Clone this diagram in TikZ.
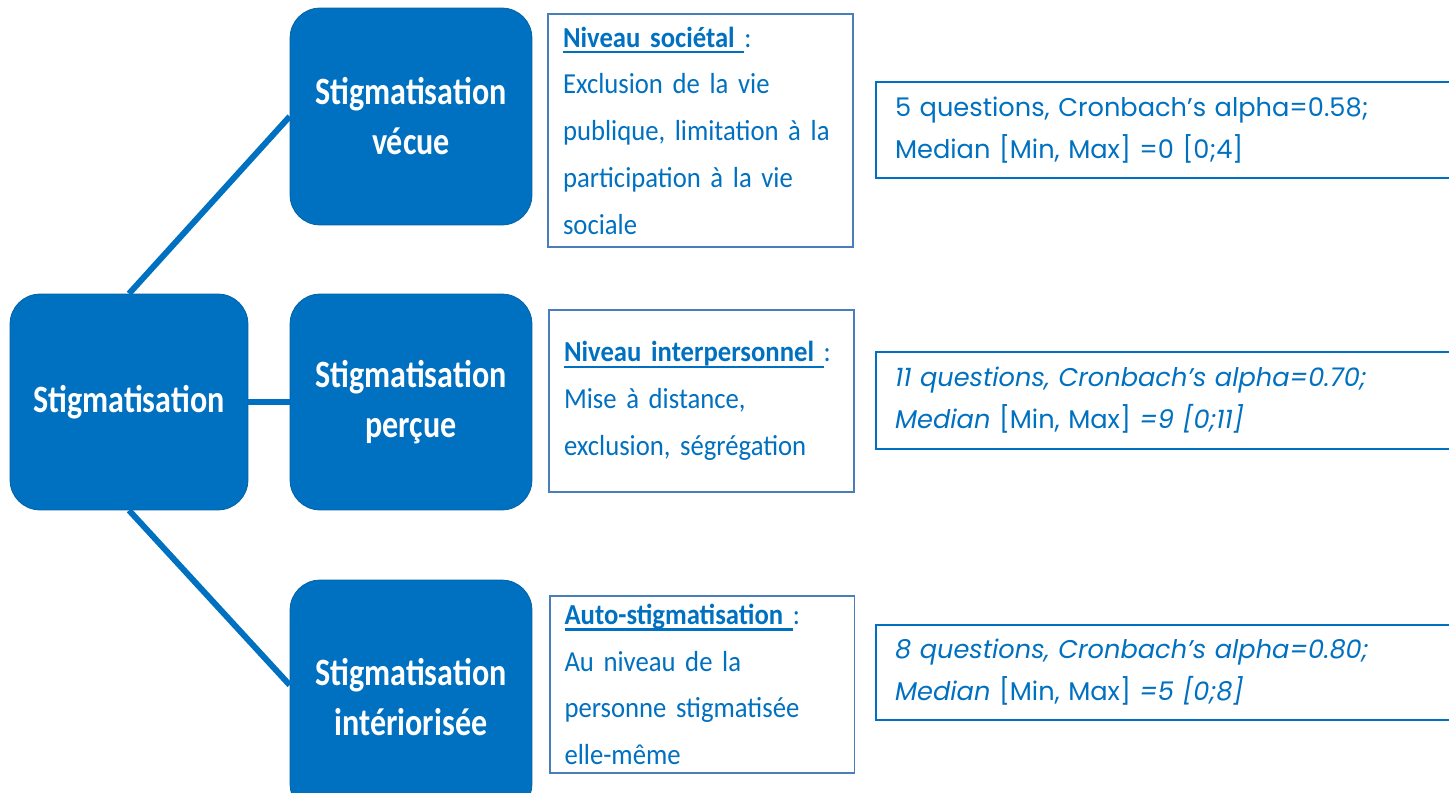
\documentclass[tikz,border=0pt]{standalone}
\usepackage{fontspec}
\setmainfont{Carlito}[FakeStretch=0.83, WordSpace=0.85]
\newfontfamily\levelfont{Carlito}[FakeStretch=0.92, WordSpace=0.9]
\newfontfamily\statfont{Poppins}
\definecolor{stigblue}{HTML}{0070C0}
\definecolor{frameblue}{HTML}{4A7EBB}
% underlined heading with a heavier rule
\newcommand{\headline}[1]{\leavevmode\setbox0\hbox{\textbf{#1}\ }\rlap{\rule[-3.6pt]{\wd0}{1.5pt}}\box0}
\begin{document}
\begin{tikzpicture}[x=0.02cm,y=-0.02cm,
    bigbox/.style={fill=stigblue, draw=stigblue!85!black, rounded corners=0.6cm, text=white,
        font=\bfseries\fontsize{22}{28.4}\selectfont, align=center, inner sep=0pt, minimum width=4.84cm},
    levelbox/.style={draw=frameblue, line width=1.1pt, text=stigblue, font=\levelfont\fontsize{16.5}{26.6}\selectfont,
        align=left, inner xsep=0.3cm, inner ysep=0pt, text width=5.5cm},
    statbox/.style={draw=stigblue, line width=1.1pt, text=stigblue, font=\statfont\fontsize{14.6}{23.8}\selectfont,
        align=left, inner xsep=0.38cm, inner ysep=0pt, text width=10.92cm, minimum width=11.68cm},
    link/.style={stigblue, line width=3.4pt}]
    \useasboundingbox (0,0) rectangle (1449,793);
    \clip (0,0) rectangle (1449,793);
    % the three kinds of stigma
    \node[bigbox, minimum height=4.32cm, minimum width=4.76cm] (stig) at (129,402) {Stigmatisation};
    \node[bigbox, minimum height=4.34cm] (vecue) at (411,116.5) {Stigmatisation\\vécue};
    \node[bigbox, minimum height=4.32cm] (percue) at (411,402) {Stigmatisation\\perçue};
    \node[bigbox, minimum height=4.68cm] (interne) at (411,697) {Stigmatisation\\intériorisée};
    \draw[link] (stig.north) -- (vecue.west);
    \draw[link] (stig.east) -- (percue.west);
    \draw[link] (stig.south) -- ([yshift=0.24cm]interne.west);
    % levels
    \node[levelbox, minimum height=4.66cm] (societal) at (700.5,130.5)
        {\headline{Niveau sociétal}:\\Exclusion de la vie\\publique, limitation à la\\participation à la vie\\sociale};
    \node[levelbox, minimum height=3.64cm] (inter) at (701.5,401)
        {\headline{Niveau interpersonnel}:\\Mise à distance,\\exclusion, ségrégation};
    \node[levelbox, minimum height=3.54cm] (auto) at (702,684.5)
        {\headline{Auto-stigmatisation}:\\Au niveau de la\\personne stigmatisée\\elle-même};
    % scores
    \node[statbox, minimum height=1.92cm] (scoreA) at (1168,130)
        {5 questions, Cronbach’s alpha=0.58;\\Median [Min, Max] =0 [0;4]};
    \node[statbox, minimum height=1.94cm] (scoreB) at (1168,400.5)
        {\textit{11 questions, Cronbach’s alpha=0.70;}\\\textit{Median} [Min, Max] \textit{=9 [0;11]}};
    \node[statbox, minimum height=1.90cm] (scoreC) at (1168,672.5)
        {\textit{8 questions, Cronbach’s alpha=0.80;}\\\textit{Median} [Min, Max] \textit{=5 [0;8]}};
\end{tikzpicture}
\end{document}
